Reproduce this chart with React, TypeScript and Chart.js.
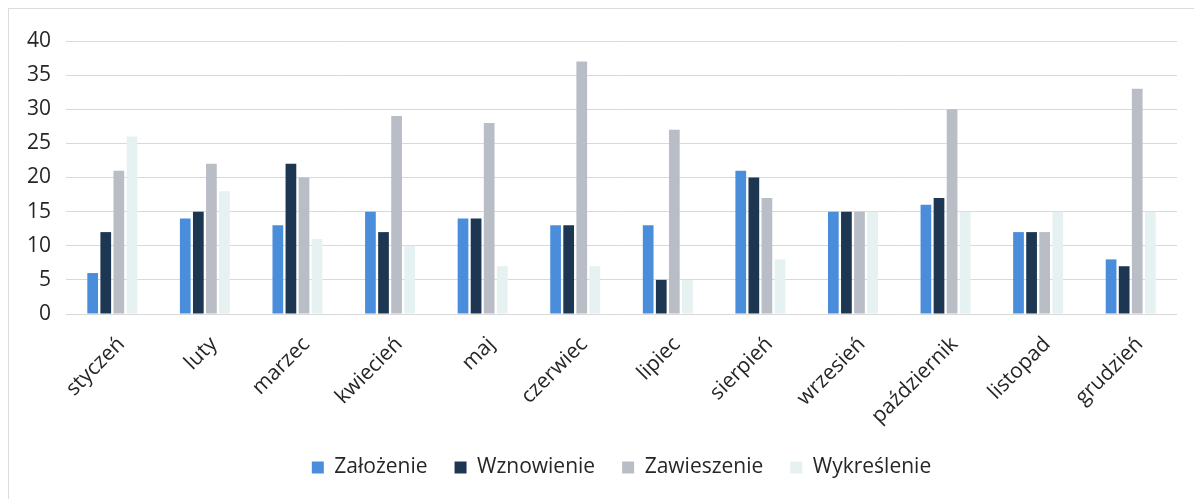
import React, { useEffect, useRef } from "react";
import { Chart, registerables } from "chart.js";

Chart.register(...registerables);

const months = [
  "styczeń", "luty", "marzec", "kwiecień", "maj", "czerwiec",
  "lipiec", "sierpień", "wrzesień", "październik", "listopad", "grudzień",
];
const zalozenie = [6, 14, 13, 15, 14, 13, 13, 21, 15, 16, 12, 8];
const wznowienie = [12, 15, 22, 12, 14, 13, 5, 20, 15, 17, 12, 7];
const zawieszenie = [21, 22, 20, 29, 28, 37, 27, 17, 15, 30, 12, 33];
const wykreslenie = [26, 18, 11, 10, 7, 7, 5, 8, 15, 15, 15, 15];

const seriesNames = ["Założenie", "Wznowienie", "Zawieszenie", "Wykreślenie"];
const seriesColors = ["#4a8edb", "#1d3752", "#b9bdc6", "#e6f1f2"];

export default function App() {
  const ref = useRef<HTMLCanvasElement | null>(null);

  useEffect(() => {
    if (!ref.current) return;
    const values = [zalozenie, wznowienie, zawieszenie, wykreslenie];
    const chart = new Chart(ref.current, {
      type: "bar",
      data: {
        labels: months,
        datasets: values.map((d, i) => ({
          label: seriesNames[i],
          data: d,
          backgroundColor: seriesColors[i],
          borderWidth: 0,
          categoryPercentage: 0.565,
          barPercentage: 0.82,
        })),
      },
      options: {
        animation: false,
        responsive: false,
        maintainAspectRatio: false,
        layout: { padding: { left: 0, right: 25, top: 32, bottom: 11 } },
        plugins: {
          tooltip: { enabled: false },
          legend: {
            position: "bottom",
            fullSize: false,
            labels: {
              boxWidth: 12,
              boxHeight: 12,
              padding: 27,
              color: "#262626",
              font: { family: "Open Sans", size: 21 },
            },
          },
        },
        scales: {
          x: {
            grid: { display: false },
            border: { display: false },
            ticks: {
              minRotation: 45,
              maxRotation: 45,
              color: "#262626",
              padding: 10,
              labelOffset: 9,
              font: { family: "Open Sans", size: 21 },
            },
            afterFit: (s: any) => {
              s.height = 116;
            },
          },
          y: {
            min: 0,
            max: 40,
            grid: { color: "#d9d9d9", lineWidth: 1, drawTicks: false },
            border: { display: false },
            ticks: {
              stepSize: 5,
              padding: 15,
              color: "#262626",
              font: { family: "Open Sans", size: 21 },
            },
            afterFit: (s: any) => {
              s.width = 57;
            },
          },
        },
      },
    });
    return () => chart.destroy();
  }, []);

  return (
    <div
      style={{
        width: 1194,
        height: 491,
        borderLeft: "1px solid #dcdcdc",
        borderTop: "1px solid #dcdcdc",
        boxSizing: "border-box",
        background: "#fff",
      }}
    >
      <canvas ref={ref} width={1193} height={490} style={{ display: "block" }} />
    </div>
  );
}
